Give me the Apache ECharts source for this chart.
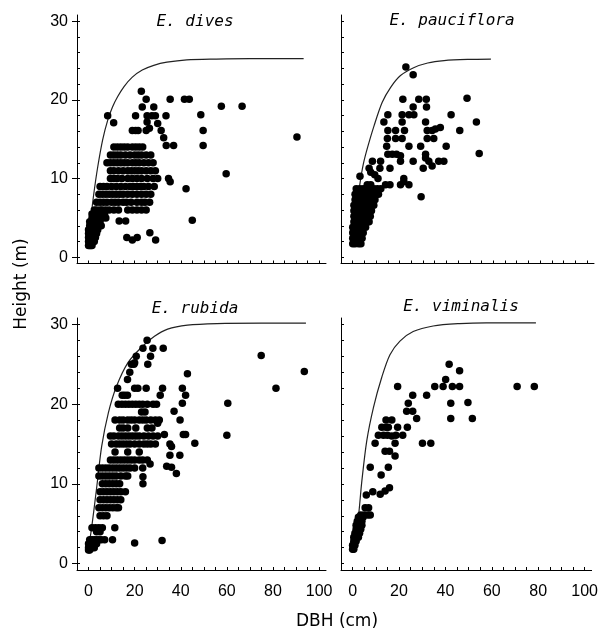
<!DOCTYPE html>
<html><head><meta charset="utf-8">
<script src="https://cdn.jsdelivr.net/npm/echarts@6.0.0/dist/echarts.min.js"></script>
<style>html,body{margin:0;padding:0;background:#fff}#c{width:601px;height:635px}</style>
</head><body><div id="c"></div>
<script>
const panelTitles = ['E. dives', 'E. pauciflora', 'E. rubida', 'E. viminalis'];
const xAxisName = 'DBH (cm)';
const yAxisName = 'Height (m)';
const xTickLabels = [0, 20, 40, 60, 80, 100];
const xTickMarks = [-5, 0, 5, 10, 15, 20, 25, 30, 35, 40, 45, 50, 55, 60, 65, 70, 75, 80, 85, 90, 95, 100];
const yTickLabels = [0, 10, 20, 30];
const yMinorTicks = [0, 2, 4, 6, 8, 10, 12, 14, 16, 18, 20, 22, 24, 26, 28, 30];

// fitted height curves
const divesCurve = [[0.3,3],[0.9,4.7],[2.3,8.1],[4,11.5],[6.1,14.9],[8.3,17.4],[10.4,19.1],[12.6,20.4],[15.4,21.7],[19,22.9],[23.3,23.8],[28.3,24.4],[34,24.8],[42.6,25.1],[55.4,25.2],[70,25.25],[93.3,25.25]];
const paucifloraCurve = [[0.5,3],[1.5,6],[3.1,9.4],[4.5,11.8],[6.2,13.8],[9.1,16.7],[12.6,19.7],[16.2,21.6],[20.4,23.1],[26,24.1],[32,24.7],[39,25],[49,25.15],[59,25.2]];
const rubidaCurve = [[0.3,2.5],[1.4,4.6],[3.6,9.7],[5.7,14.7],[8.6,18.9],[12.1,22.2],[17.1,25.2],[22.9,27.1],[28.6,28.5],[34.3,29.4],[42.9,29.9],[55.7,30.1],[75,30.15],[94.3,30.15]];
const viminalisCurve = [[1.1,2.7],[2.6,6.1],[4,10.4],[6.1,15.4],[9,19.6],[12.6,23.4],[16.1,26.2],[20.4,27.9],[26.1,29.1],[34.7,29.8],[46.1,30.1],[57.6,30.2],[79,30.2]];

// scattered trees [DBH, height]
const divesPoints = [[8.3,18],[10.9,17.1],[22.9,21.1],[25,20.1],[23.3,19.1],[28.3,19.1],[20.4,18],[25.4,18],[27.5,18],[29,18],[33.6,18],[35.4,20.1],[41.6,20.1],[43.7,20.1],[48.7,18.1],[49.7,16.1],[49.7,14.2],[57.6,19.2],[66.6,19.2],[90.4,15.3],[59.7,10.6],[42.3,8.7],[45,4.7],[34.7,10],[35.4,9.6],[33.7,14.2],[36.9,14.2],[32.6,15.2],[19,16.1],[20.4,16.1],[21.5,16.1],[25,16.1],[26.4,16.4],[25.4,17.2],[16.6,2.5],[19,2.2],[21.1,2.5],[26.6,3.1],[29.1,2.2],[13.3,4.6],[16.1,4.6],[31.5,16.1],[30,17]];
// dense band of trees: [height, [DBH values]]
const divesRows = [
  [14, [11,12.5,14,15.5,17,19,20.5,22,23.5]],
  [13, [9.5,11,12.5,14,16,18,20,21.5,23,25,27]],
  [12, [8,9.5,11,12.5,14,15.5,17,19,20.5,22,24,26,28]],
  [11, [9.5,11,13,15,17,18.5,20,21.5,23,25,27,29]],
  [10, [9.5,11,12.5,14.5,17,19,21,23,25.5,28,30]],
  [9, [5,6.5,8,10,12,14,16,18,19.5,21,22.5,24,26,28.5]],
  [8, [4.5,6,7.5,9,10.5,12,13.5,15,17,19,21,23,25,27]],
  [7, [3.5,5,6.5,8,10,11.5,13,15,16.5,18.5,21,23,24.5,26.5]],
  [6, [2.5,3.5,5,6,7.5,9,11,13,17,19,21,23,25]],
  [5.5, [1.5,2.5,4,5.5,7]],
  [5, [1.5,2.5,3.5,4.5,6,7.5]],
  [4.5, [0.5,1.5,2.5,3.5,5]],
  [4, [0.5,1,2,3,4,5.5]],
  [3.5, [0,1,2,3,4]],
  [3, [0,0.5,1,1.5,2,2.5,3.5]],
  [2.5, [0,1,2,3]],
  [2, [0,0.5,1,1.5,2,2.5]],
  [1.5, [0,0.5,1,1.5]]
];
const paucifloraPoints = [[22.7,24.2],[25.8,23.2],[21.4,20.1],[28.2,20.1],[31.4,20.1],[25.8,19.1],[31.5,19.1],[48.8,20.2],[15,18.1],[21.1,18.1],[24,18.1],[26.1,18.1],[42,18.1],[13.3,17.2],[21.1,17.2],[31.1,17.2],[52.8,17.2],[15,16.1],[18.3,16.1],[22.1,16.1],[31.8,16.1],[33.9,16.1],[35.3,16.3],[37.4,16.5],[45.7,16.1],[14.8,15.1],[18.3,15.1],[21.1,15.1],[31.8,15.1],[34.6,15.1],[24,14.1],[29,14.1],[39.9,14.1],[14.5,14.1],[15,13.1],[16.9,13.1],[18.7,13.1],[20.4,12.9],[31.1,13.1],[54,13.2],[20.4,12.2],[25.8,12.2],[31.1,12.6],[32.5,12.2],[36.7,12.2],[38.9,12.2],[30.1,11.3],[33.9,11.6],[8.4,12.2],[11.9,12.2],[7,11.3],[7.7,10.8],[9.4,10.5],[11.6,11.3],[15.9,11.3],[3.1,10.3],[10.8,10],[6.2,9.2],[7.7,9.2],[14,9.2],[15.9,9.2],[20.4,9.2],[21.8,9.6],[24,9.2],[21.8,10],[29.2,7.7]];
const paucifloraRows = [
  [8.7, [1.5,3,4.5,6,7.5,9,10.5,12]],
  [8.0, [1,2.5,4,5.5,7,8.5,10,11]],
  [7.3, [1,2.5,4,5.5,7,8.5,9.5]],
  [6.6, [0.5,2,3.5,5,6.5,8,9]],
  [5.9, [0.5,2,3.5,5,6.5,8]],
  [5.2, [0.5,2,3.5,5,6.5,7.5]],
  [4.5, [0.5,2,3.5,5,6.5,7]],
  [3.8, [0,1.5,3,4.5,5.5]],
  [3.1, [0,1.5,3,4.5]],
  [2.4, [0,1.5,3,4]],
  [1.7, [0,1,2.5,3.5]]
];
const rubidaPoints = [[25.4,28],[23.6,27],[27.9,27],[32.4,27],[26.9,26],[25.7,25],[20.7,26],[20,25.2],[18.6,25],[19.7,25],[16.9,23.1],[17.9,24],[42.9,23.8],[12.6,22],[20,22],[21.4,22],[25,22],[32.1,22],[40.7,22],[42.1,21.1],[15.7,21.1],[14.6,21.1],[16.9,21.1],[31.1,21.1],[40.7,20.1],[60.4,20.1],[37.1,19.1],[39.7,18],[41.1,16.2],[42.1,16.2],[46.1,15.1],[60,16.1],[35.3,15],[36,14.7],[35.3,13.6],[39.6,13.6],[33.9,12.2],[36,12.1],[38.1,11.3],[74.9,26.1],[81.3,22],[93.6,24.1],[31.9,2.9],[20,2.6],[11.4,4.5],[10.4,3],[26.7,12.5],[23.6,10.9],[23.6,10],[32.9,16.2],[30,17.6],[30.7,18],[24.5,19],[23,19]];
const rubidaRows = [
  [20, [12.9,14.5,16,17.5,19,20.5,22,23.5,25.5,28,29.5]],
  [18, [11.5,13.5,15,17,18.5,20,22,23.5,25,27,29]],
  [17, [13.5,15,17,20.5,25.5,27.5]],
  [16, [9.5,11,13,14.5,16,17.5,19,20.5,22,24,26,28,30]],
  [15, [10,12,13.5,15,16.5,18,20,22,24,25.5,27,29]],
  [14, [11.5,17,22]],
  [13, [9.5,11,12.5,14,15.5,17,18.5,20,22,23.5,25.5]],
  [12, [4.5,6,7.5,9,10.5,12,13.5,15,16.5,18,20,23.5]],
  [11, [4.5,6,7.5,9,10.5,12,14,16,17]],
  [10, [6,7.5,9,10.5,12,13.5]],
  [9, [5,6.5,8,9.5,11,12.5,14,16]],
  [8, [5,6.5,8,9.5,11,12.5,14]],
  [7, [4.5,6,7.5,9,10.5,12,13]],
  [6, [5,6.5,8]],
  [4.5, [1.5,3,4.5,6]],
  [4, [3.5,5]],
  [3, [0.5,1.5,2.5,3.5,4.5,5.5,7]],
  [2.5, [0,1,2,3.5]],
  [2, [0,0.5,1.5,2.5]],
  [1.7, [0,0.5]]
];
const viminalisPoints = [[41.6,25],[40.1,23.1],[46.1,24.2],[19.4,22.2],[35.4,22.2],[39,22.2],[43,22.2],[46.1,22.2],[70.9,22.2],[78.3,22.2],[31.9,21.1],[25.9,21.1],[24,20.1],[23.3,19.1],[25.9,19.1],[27.6,18.2],[42.3,20.1],[49.7,20.2],[42.3,18.2],[51.6,18.2],[30.1,15.1],[33.7,15.1],[19.4,17.1],[23.6,17.1],[21.6,16.1],[18.3,15.1],[18.7,16.1],[16.9,16],[14.4,18],[16.9,18],[12.6,17.1],[14.4,17.1],[15.4,17.1],[11.1,16.1],[13.3,16.1],[15,16.1],[9.7,15.1],[14,14.1],[15.9,14.1],[18.3,13.5],[15.4,12.1],[12.3,11.1],[7.6,12.1],[8.7,9],[11.9,8.7],[14,9.1],[15.9,9.5],[5.9,8.6],[5.4,7],[6.9,7],[7.6,6.1]];
const viminalisRows = [
  [6.1, [3.5,5,6.5]],
  [5.8, [2.5,3.5,4.5]],
  [5.3, [2,3,4]],
  [4.8, [1.5,2.5,3.5,4]],
  [4.3, [1.5,2.5,3.5]],
  [3.8, [1,2,3]],
  [3.3, [0.5,1.5,2.5]],
  [2.8, [0.5,1.5]],
  [2.3, [0,1]],
  [1.8, [0,0.5]]
];

function expandRows(rows) {
  const out = [];
  rows.forEach(function (r) { r[1].forEach(function (d) { out.push([d, r[0]]); }); });
  return out;
}

const panels = [
  { pts: divesPoints.concat(expandRows(divesRows)), curve: divesCurve },
  { pts: paucifloraPoints.concat(expandRows(paucifloraRows)), curve: paucifloraCurve },
  { pts: rubidaPoints.concat(expandRows(rubidaRows)), curve: rubidaCurve },
  { pts: viminalisPoints.concat(expandRows(viminalisRows)), curve: viminalisCurve }
];

const grids = [
  { left: 77, top: 15, width: 249, height: 248.5 },
  { left: 341, top: 15, width: 253, height: 248.5 },
  { left: 77, top: 318, width: 249, height: 252 },
  { left: 341, top: 318, width: 253, height: 252 }
];
const titlePos = [[195, 22], [452, 21], [195, 309], [461, 307]];

const axisLineStyle = { color: '#000', width: 1 };
const tickFont = { fontSize: 16, fontFamily: 'Liberation Sans, Arial, sans-serif', color: '#000' };

const xAxes = [], yAxes = [], series = [];
grids.forEach(function (g, i) {
  const isLeft = (i % 2 === 0);
  const isBottom = (i >= 2);
  xAxes.push({
    gridIndex: i, type: 'value', min: -5, max: 103,
    axisLine: { onZero: false, lineStyle: axisLineStyle },
    axisTick: { inside: true, length: 3, customValues: xTickMarks, lineStyle: axisLineStyle },
    axisLabel: Object.assign({ show: isBottom, customValues: xTickLabels, margin: 14 }, tickFont),
    splitLine: { show: false }
  });
  yAxes.push({
    gridIndex: i, type: 'value', min: -0.8, max: 30.8, position: 'left',
    axisLine: { onZero: false, lineStyle: axisLineStyle },
    axisTick: { inside: !isLeft, length: isLeft ? 5 : 3, customValues: isLeft ? yTickLabels : yMinorTicks, lineStyle: axisLineStyle },
    axisLabel: Object.assign({ show: isLeft, customValues: yTickLabels, margin: 9 }, tickFont),
    splitLine: { show: false }
  });
  series.push({
    type: 'line', xAxisIndex: i, yAxisIndex: i, data: panels[i].curve,
    smooth: 0.3, symbol: 'none', silent: true, z: 2,
    lineStyle: { color: '#222', width: 1.2 }
  });
  series.push({
    type: 'scatter', xAxisIndex: i, yAxisIndex: i, data: panels[i].pts,
    symbol: 'circle', symbolSize: 7.5, z: 3, silent: true,
    itemStyle: { color: '#000', opacity: 1 }
  });
});
// minor inner ticks on the labelled y axes
[0, 2].forEach(function (gi) {
  yAxes.push({
    gridIndex: gi, type: 'value', min: -0.8, max: 30.8, position: 'left', offset: 0,
    axisLine: { show: false, onZero: false },
    axisTick: { inside: true, length: 3, customValues: yMinorTicks, lineStyle: axisLineStyle },
    axisLabel: { show: false },
    splitLine: { show: false }
  });
});

const graphics = panelTitles.map(function (t, i) {
  return {
    type: 'text', x: titlePos[i][0], y: titlePos[i][1], silent: true,
    style: { text: t, fill: '#000', font: 'italic 16px "DejaVu Sans Mono"',
      textAlign: 'center', textVerticalAlign: 'middle', align: 'center', verticalAlign: 'middle' }
  };
});
graphics.push({
  type: 'text', x: 337, y: 622, silent: true,
  style: { text: xAxisName, fill: '#000', font: '17px "DejaVu Sans"',
    textAlign: 'center', textVerticalAlign: 'middle', align: 'center', verticalAlign: 'middle' }
});
graphics.push({
  type: 'text', x: 22, y: 284, rotation: Math.PI / 2, silent: true,
  style: { text: yAxisName, fill: '#000', font: '17px "DejaVu Sans"',
    textAlign: 'center', textVerticalAlign: 'middle', align: 'center', verticalAlign: 'middle' }
});

const chart = echarts.init(document.getElementById('c'), null, { renderer: 'canvas' });
chart.setOption({
  animation: false,
  backgroundColor: '#fff',
  grid: grids,
  xAxis: xAxes,
  yAxis: yAxes,
  series: series,
  graphic: graphics
});
</script>
</body></html>
